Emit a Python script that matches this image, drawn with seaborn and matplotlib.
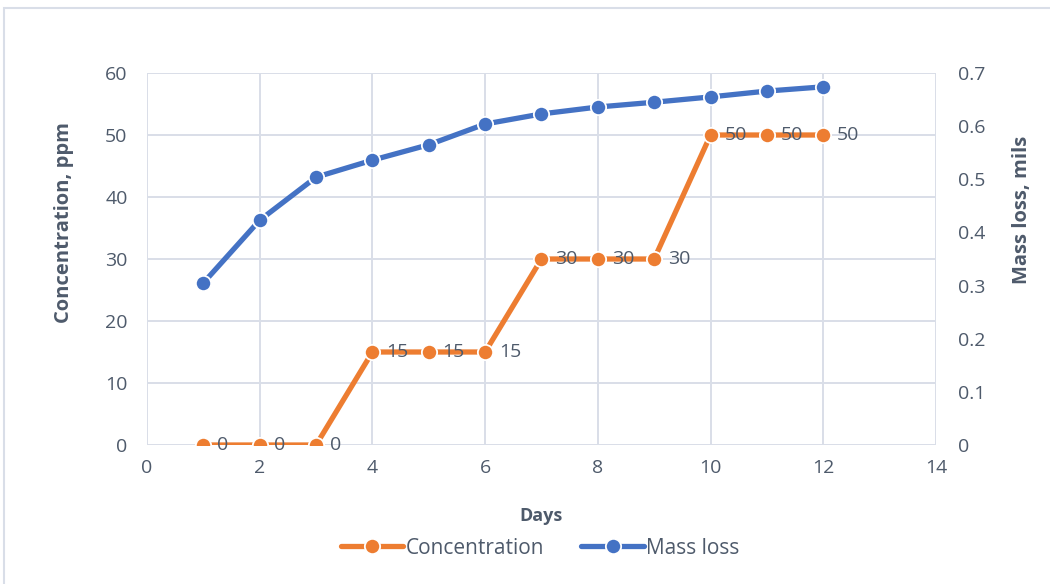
import matplotlib
matplotlib.use("Agg")
import matplotlib.pyplot as plt
import pandas as pd
import seaborn as sns
from matplotlib.patches import Rectangle

days = [1, 2, 3, 4, 5, 6, 7, 8, 9, 10, 11, 12]
concentration = [0, 0, 0, 15, 15, 15, 30, 30, 30, 50, 50, 50]
mass_loss = [0.305, 0.423, 0.504, 0.536, 0.565, 0.604, 0.623, 0.636, 0.645, 0.655, 0.666, 0.674]

x_ticks = [0, 2, 4, 6, 8, 10, 12, 14]
left_ticks = [0, 10, 20, 30, 40, 50, 60]
right_ticks = [0, 0.1, 0.2, 0.3, 0.4, 0.5, 0.6, 0.7]
right_tick_labels = ["0", "0.1", "0.2", "0.3", "0.4", "0.5", "0.6", "0.7"]

ORANGE = "#ED7D31"
BLUE = "#4472C4"
TEXT = "#4E5A6B"
GRID = "#D9DEE8"

sns.set_theme(style="white")
plt.rcParams["font.family"] = ["Open Sans", "DejaVu Sans"]

df = pd.DataFrame({"Days": days, "Concentration": concentration, "Mass loss": mass_loss})

fig = plt.figure(figsize=(10.5, 5.84), dpi=100)
ax = fig.add_axes([0.14, 0.238, 0.7514, 0.637])
ax2 = ax.twinx()

# chart border
fig.patches.append(Rectangle((4 / 1050, -0.05), 1.1, 1 - 8 / 584 + 0.05,
                             transform=fig.transFigure, fill=False,
                             edgecolor=GRID, linewidth=1.5))

line_kw = dict(linewidth=3.8, marker="o", markersize=11,
               markeredgecolor="white", markeredgewidth=1.3)
sns.lineplot(data=df, x="Days", y="Concentration", ax=ax, color=ORANGE, zorder=3, **line_kw)
sns.lineplot(data=df, x="Days", y="Mass loss", ax=ax2, color=BLUE, zorder=3, **line_kw)

for d, c in zip(days, concentration):
    ax.annotate(f"{c}", (d, c), xytext=(10, 0), textcoords="offset points",
                va="center", ha="left", color=TEXT, fontsize=14, zorder=4)

ax.set_xlim(0, 14)
ax.set_ylim(0, 60)
ax2.set_ylim(0, 0.7)
ax.set_xticks(x_ticks)
ax.set_yticks(left_ticks)
ax2.set_yticks(right_ticks)
ax2.set_yticklabels(right_tick_labels)

ax.grid(True, color=GRID, linewidth=1.4)
ax.set_axisbelow(True)
for a in (ax, ax2):
    for s in a.spines.values():
        s.set_visible(False)
    a.tick_params(length=0, labelsize=14, colors=TEXT)
ax.tick_params(axis="x", pad=10)
ax.tick_params(axis="y", pad=14)
ax2.tick_params(axis="y", pad=16)

ax.set_xlabel("Days", fontsize=13, fontweight="bold", color=TEXT, labelpad=22)
ax.set_ylabel("Concentration, ppm", fontsize=14.5, fontweight="bold", color=TEXT)
ax2.set_ylabel("Mass loss, mils", fontsize=14.5, fontweight="bold", color=TEXT)
ax.yaxis.set_label_coords(-0.092, 0.597)
ax2.yaxis.set_label_coords(1.096, 0.632)

handles = [ax.get_lines()[0], ax2.get_lines()[0]]
fig.legend(handles, ["Concentration", "Mass loss"], loc="center",
           bbox_to_anchor=(540 / 1050, 1 - 548 / 584), ncol=2, frameon=False,
           fontsize=15, labelcolor=TEXT, handlelength=3.0, columnspacing=1.8,
           handletextpad=0.1)

fig.savefig("out.png", dpi=100)
